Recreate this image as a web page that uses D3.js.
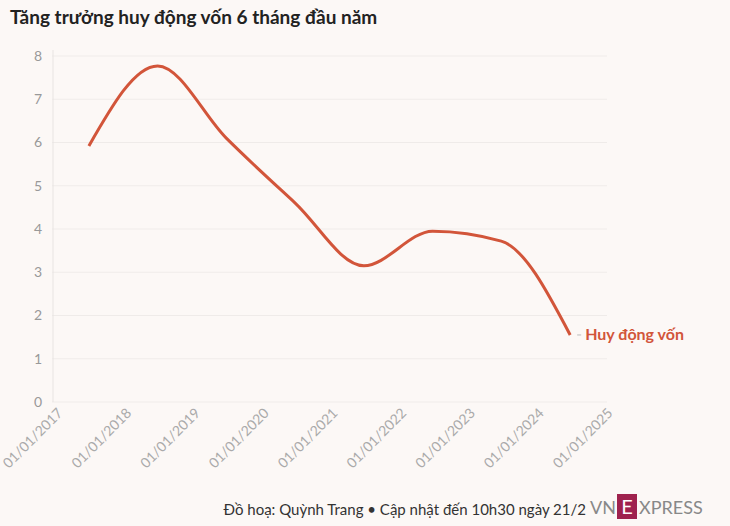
<!DOCTYPE html>
<html><head><meta charset="utf-8">
<script src="https://cdn.jsdelivr.net/npm/d3@7"></script>
<style>
body{margin:0;background:#fcf8f6;font-family:Lato,"Noto Sans",sans-serif;}
</style></head><body>
<svg id="chart" width="730" height="526"></svg>
<script>
"use strict";
var dates = ["2017-06-30","2018-06-30","2019-06-30","2020-06-30","2021-06-30","2022-06-30","2023-06-30","2024-06-30"];
var values = [5.92, 7.77, 6.1, 4.6, 3.15, 3.95, 3.72, 1.55];
var yTicks = [0,1,2,3,4,5,6,7,8];
var seriesName = "Huy động vốn";

var parse = d3.timeParse("%Y-%m-%d");
var data = dates.map(function (d, i) { return {date: parse(d), value: values[i]}; });
var svg = d3.select("#chart");
var red = "#d2553a";

var x = d3.scaleTime().domain([new Date(2017,0,1), new Date(2025,0,1)]).range([55, 605]);
var y = d3.scaleLinear().domain([0, 8]).range([402, 56]);

svg.append("text").attr("x", 10).attr("y", 24)
  .attr("font-size", 19).attr("font-weight", "bold").attr("fill", "#222")
  .text("Tăng trưởng huy động vốn 6 tháng đầu năm");

// grid
svg.append("g").selectAll("line").data(yTicks).join("line")
  .attr("x1", 52).attr("x2", 607)
  .attr("y1", function (d) { return y(d); }).attr("y2", function (d) { return y(d); })
  .attr("stroke", d3.rgb(0,0,0,0.05));

svg.append("line").attr("x1", 53).attr("x2", 53).attr("y1", 50).attr("y2", 402)
  .attr("stroke", "#e8e4e2");

var yAxis = svg.append("g").attr("transform", "translate(46,0)")
  .call(d3.axisLeft(y).tickValues(yTicks).tickSize(0).tickPadding(4));
yAxis.select(".domain").remove();
yAxis.selectAll("text").attr("fill", "#999").attr("font-size", 14).attr("font-family", "Lato");

var xAxis = svg.append("g").attr("transform", "translate(0,404)")
  .call(d3.axisBottom(x).ticks(d3.timeYear.every(1)).tickFormat(d3.timeFormat("%d/%m/%Y")).tickSize(0));
xAxis.select(".domain").remove();
xAxis.selectAll("text").attr("fill", "#aaa").attr("font-size", 14).attr("font-family", "Lato")
  .attr("text-anchor", "end").attr("dy", 0)
  .attr("transform", "translate(6,8) rotate(-45)");

var line = d3.line()
  .x(function (d) { return x(d.date); })
  .y(function (d) { return y(d.value); })
  .curve(d3.curveMonotoneX);

svg.append("path").datum(data).attr("d", line)
  .attr("fill", "none").attr("stroke", red).attr("stroke-width", 3);

var last = data[data.length - 1];
svg.append("line").attr("x1", x(last.date) + 7).attr("x2", x(last.date) + 11)
  .attr("y1", y(last.value)).attr("y2", y(last.value)).attr("stroke", "#bbb");
svg.append("text").attr("x", x(last.date) + 15).attr("y", y(last.value) + 5)
  .attr("font-size", 16).attr("font-weight", "bold").attr("fill", red).text(seriesName);

svg.append("text").attr("x", 586).attr("y", 515).attr("text-anchor", "end")
  .attr("font-size", 15).attr("fill", "#333")
  .text("Đồ hoạ: Quỳnh Trang • Cập nhật đến 10h30 ngày 21/2");

var logo = svg.append("g").attr("transform", "translate(590,496)");
logo.append("text").attr("x", 0).attr("y", 18).attr("font-size", 18).attr("fill", "#888").text("VN");
logo.append("rect").attr("x", 27).attr("y", -2).attr("width", 20).attr("height", 25).attr("fill", "#9f224e");
logo.append("text").attr("x", 37).attr("y", 18).attr("text-anchor", "middle").attr("font-size", 20)
  .attr("fill", "#fff").text("E");
logo.append("text").attr("x", 49).attr("y", 18).attr("font-size", 18).attr("fill", "#888").text("XPRESS");
</script></body></html>
